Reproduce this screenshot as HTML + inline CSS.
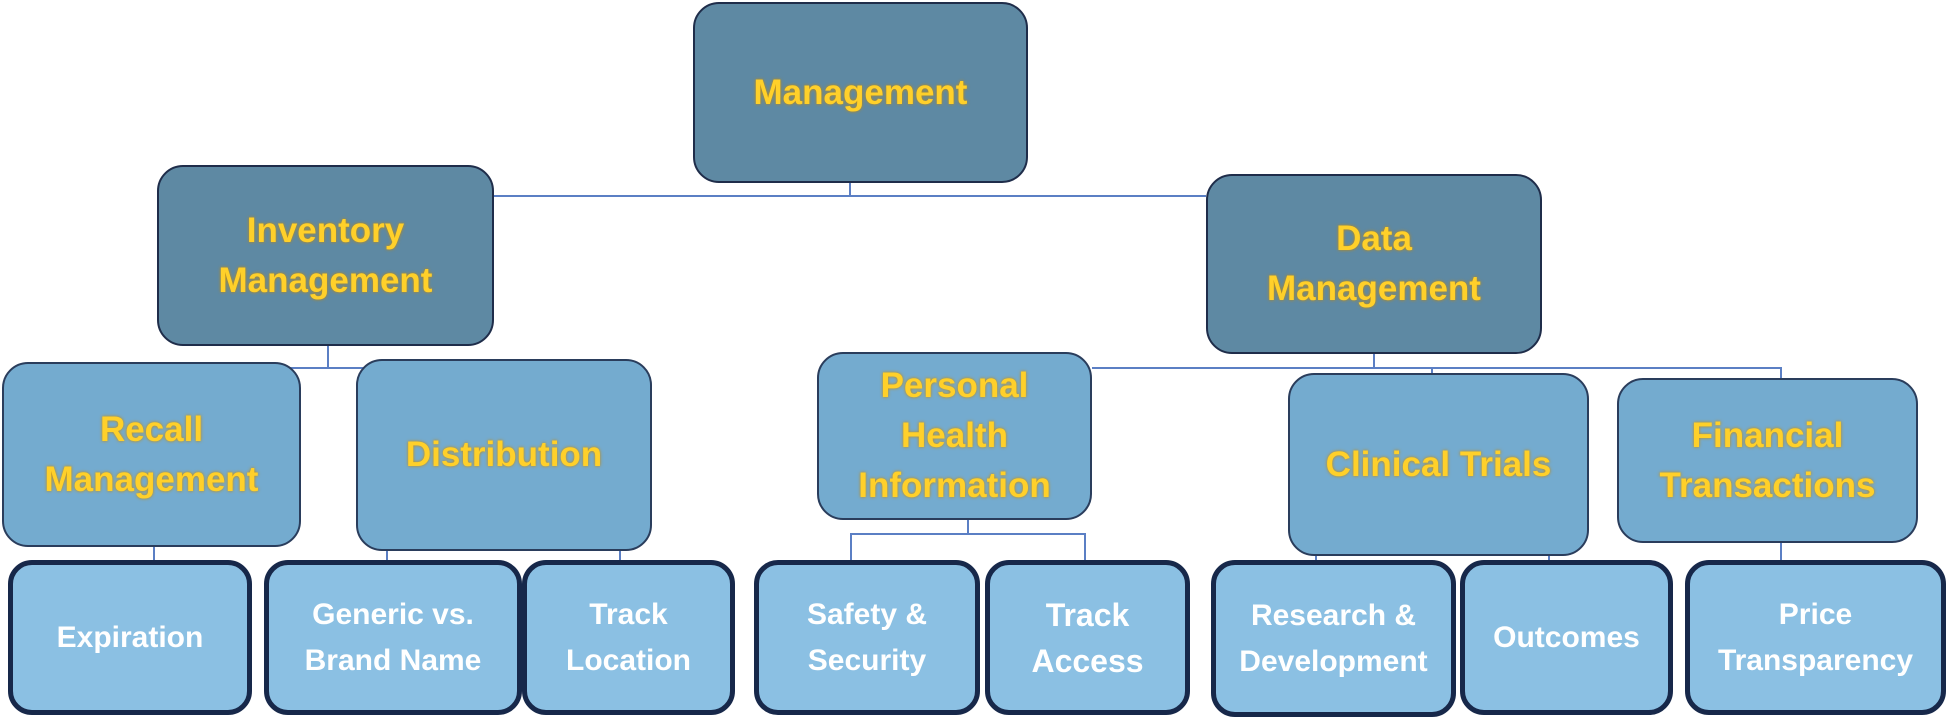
<!DOCTYPE html>
<html><head><meta charset="utf-8"><style>
body{margin:0;width:1950px;height:720px;background:#fff;position:relative;overflow:hidden;font-family:"Liberation Sans Narrow","Liberation Sans",sans-serif;font-weight:bold}
.b{position:absolute;box-sizing:border-box;display:flex;align-items:center;justify-content:center;text-align:center;border-radius:26px}
.d{background:#5E89A3;border:2px solid #1f2d4a;color:#FFD02A;font-size:35px;line-height:50px;text-shadow:0 0 3px #c98a00}
.m{background:#74ABCF;border:2px solid #2a3d5c;color:#FFD02A;font-size:35px;line-height:50px;text-shadow:0 0 3px #c98a00}
.l{background:#8BC0E3;border:5px solid #17284a;color:#fff;font-size:30px;line-height:46px;border-radius:24px}
.h,.v{position:absolute;background:#5b7fc4}
.h{height:2px}.v{width:2px}
</style></head><body>
<div class="v" style="left:849px;top:183px;height:13px"></div>
<div class="h" style="left:494px;top:195px;width:712px"></div>
<div class="v" style="left:327px;top:346px;height:22px"></div>
<div class="h" style="left:270px;top:367px;width:110px"></div>
<div class="v" style="left:153px;top:547px;height:14px"></div>
<div class="v" style="left:386px;top:551px;height:10px"></div>
<div class="v" style="left:619px;top:551px;height:10px"></div>
<div class="v" style="left:1373px;top:354px;height:14px"></div>
<div class="h" style="left:1092px;top:367px;width:689px"></div>
<div class="v" style="left:1431px;top:367px;height:8px"></div>
<div class="v" style="left:1780px;top:367px;height:12px"></div>
<div class="v" style="left:967px;top:520px;height:14px"></div>
<div class="h" style="left:850px;top:533px;width:236px"></div>
<div class="v" style="left:850px;top:533px;height:28px"></div>
<div class="v" style="left:1084px;top:533px;height:28px"></div>
<div class="v" style="left:1315px;top:556px;height:6px"></div>
<div class="v" style="left:1548px;top:556px;height:6px"></div>
<div class="v" style="left:1780px;top:543px;height:18px"></div>

<div class="b d" style="left:693px;top:2px;width:335px;height:181px">Management</div>
<div class="b d" style="left:157px;top:165px;width:337px;height:181px">Inventory<br>Management</div>
<div class="b d" style="left:1206px;top:174px;width:336px;height:180px">Data<br>Management</div>
<div class="b m" style="left:2px;top:362px;width:299px;height:185px">Recall<br>Management</div>
<div class="b m" style="left:356px;top:359px;width:296px;height:192px">Distribution</div>
<div class="b m" style="left:817px;top:352px;width:275px;height:168px">Personal<br>Health<br>Information</div>
<div class="b m" style="left:1288px;top:373px;width:301px;height:183px">Clinical Trials</div>
<div class="b m" style="left:1617px;top:378px;width:301px;height:165px">Financial<br>Transactions</div>

<div class="b l" style="left:8px;top:560px;width:244px;height:155px">Expiration</div>
<div class="b l" style="left:264px;top:560px;width:258px;height:155px">Generic vs.<br>Brand Name</div>
<div class="b l" style="left:522px;top:560px;width:213px;height:155px">Track<br>Location</div>
<div class="b l" style="left:754px;top:560px;width:226px;height:155px">Safety &amp;<br>Security</div>
<div class="b l" style="left:985px;top:560px;width:205px;height:155px;font-size:32px">Track<br>Access</div>
<div class="b l" style="left:1211px;top:560px;width:245px;height:157px">Research &amp;<br>Development</div>
<div class="b l" style="left:1460px;top:560px;width:213px;height:155px">Outcomes</div>
<div class="b l" style="left:1685px;top:560px;width:261px;height:155px">Price<br>Transparency</div>
</body></html>
